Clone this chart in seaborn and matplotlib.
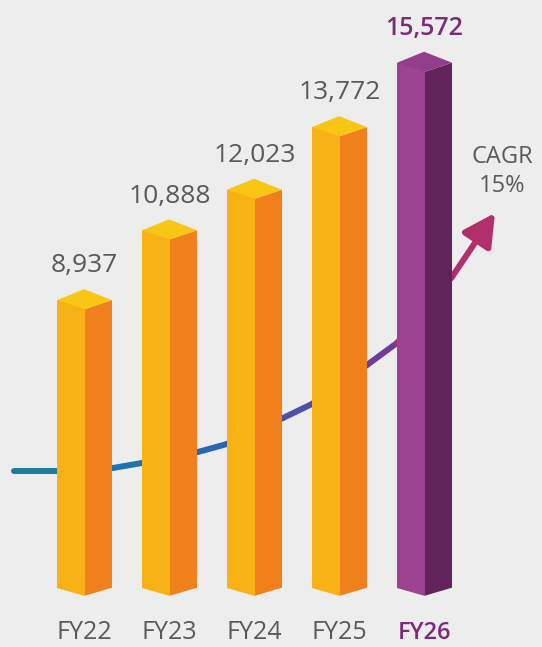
import seaborn as sns
import matplotlib.pyplot as plt
from matplotlib.collections import LineCollection
from matplotlib.patches import Polygon

# data
years = ['FY22', 'FY23', 'FY24', 'FY25', 'FY26']
revenue = [8937, 10888, 12023, 13772, 15572]
cagr_text = ['CAGR', '15%']

# decorative growth curve (category position, value units)
trend_x = [-0.671, -0.165, 0.494, 0.835, 1.494, 1.835, 2.494, 2.835, 3.482, 3.835, 4.482]
trend_y = [4161, 4161, 4245, 4385, 4692, 4916, 5642, 6034, 7124, 7739, 9583]
trend_tip = (4.988, 11372)

# styles
FRONT = ['#f8b215'] * 4 + ['#9d4291']
SIDE = ['#ef801b'] * 4 + ['#60245a']
TOP = ['#f9c614'] * 4 + ['#933e8b']
LINE_COLS = ['#1c7c9c', '#1c7c9c', '#1d74b0', '#1f6eb3', '#2766b4', '#3a5cb0',
             '#4c52aa', '#5c47a3', '#6b3c9c', '#a6306f']
ARROW_COL = '#b1306c'
GREY = '#58595b'
PURPLE = '#7b2b7b'
BG = '#ededed'

FW = 0.329         # front face width (category units)
SW = 0.318         # side face width
FLOOR = 900        # where the bars start
V_PER_PX = 27.95   # value units per pixel
DV_FRONT = 9 * V_PER_PX
DV_BACK = 11 * V_PER_PX
DV_BOT = 8 * V_PER_PX
CENTER = SW / 2    # shift from front centre to full bar centre

sns.set_theme(style='white')
plt.rcParams['font.family'] = ['Open Sans', 'DejaVu Sans']

fig = plt.figure(figsize=(5.42, 6.47), dpi=100)
fig.patch.set_facecolor(BG)
ax = fig.add_axes([0, 0, 1, 1])
ax.set_facecolor(BG)

heights = [v - FLOOR for v in revenue]
sns.barplot(x=years, y=heights, hue=years, palette=FRONT, width=FW,
            bottom=FLOOR, saturation=1, linewidth=0, legend=False,
            zorder=3, ax=ax)

ax.set_xlim(-0.835, 5.541)
ax.set_ylim(-758, 17325)
ax.axis('off')

# growth curve behind the bars
pts = list(zip(trend_x, trend_y))
segs = [[pts[k], pts[k + 1]] for k in range(len(pts) - 1)]
lc = LineCollection(segs, colors=LINE_COLS, linewidths=4.3,
                    capstyle='round', zorder=1)
ax.add_collection(lc)
ax.annotate('', xy=trend_tip, xytext=pts[-1],
            arrowprops=dict(arrowstyle='-|>,head_length=1.6,head_width=0.85',
                            color=ARROW_COL, lw=4.3, shrinkA=0, shrinkB=0),
            zorder=1)

# 3D side faces and caps
for i, v in enumerate(revenue):
    xl = i - FW / 2
    xm = i + FW / 2
    xr = xm + SW
    ax.add_patch(Polygon([(xl, FLOOR), (xm, FLOOR), (xm, FLOOR - DV_BOT)],
                         closed=True, fc=FRONT[i], ec='none', zorder=3))
    ax.add_patch(Polygon([(xm, v - DV_FRONT), (xr, v), (xr, FLOOR), (xm, FLOOR - DV_BOT)],
                         closed=True, fc=SIDE[i], ec='none', zorder=3))
    ax.add_patch(Polygon([(xl, v), (xm, v - DV_FRONT), (xr, v), (xl + SW, v + DV_BACK)],
                         closed=True, fc=TOP[i], ec='none', zorder=4))

    last = i == len(revenue) - 1
    ax.annotate(f'{v:,}', xy=(i + CENTER, v), xytext=(0, 20), textcoords='offset points',
                ha='center', va='baseline',
                fontsize=18 if last else 19,
                fontweight='semibold' if last else 'normal',
                color=PURPLE if last else GREY)
    ax.text(i + CENTER, 0.0124, years[i], transform=ax.get_xaxis_transform(),
            ha='center', va='baseline',
            fontsize=17 if last else 18,
            fontweight='semibold' if last else 'normal',
            color=PURPLE if last else GREY)

# CAGR note above the arrow
ax.annotate(cagr_text[0], xy=trend_tip, xytext=(5, 36), textcoords='offset points',
            ha='center', va='baseline', fontsize=17, color=GREY)
ax.annotate(cagr_text[1], xy=trend_tip, xytext=(5, 15), textcoords='offset points',
            ha='center', va='baseline', fontsize=17, color=GREY)

fig.savefig('out.png', dpi=100, facecolor=BG)
